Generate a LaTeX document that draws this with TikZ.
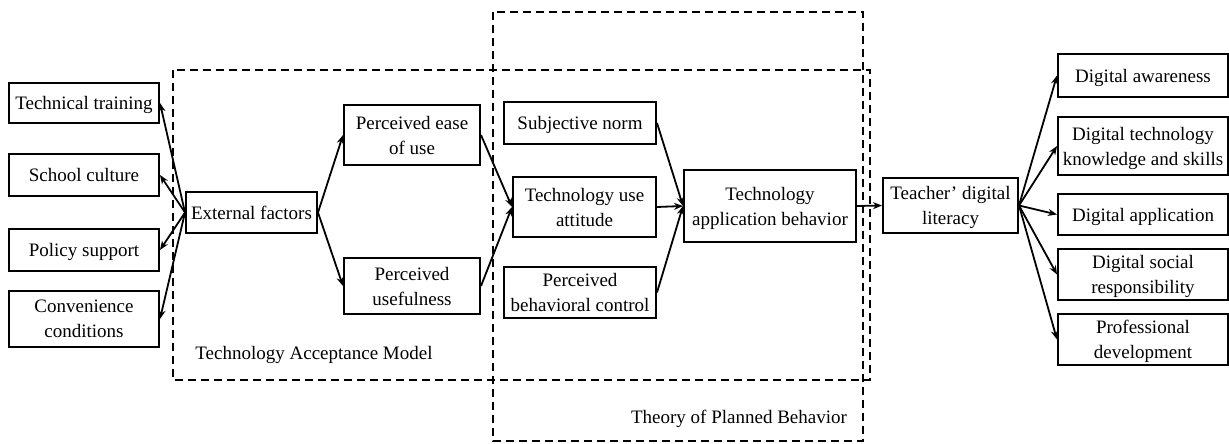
\documentclass[tikz,border=0pt]{standalone}
\usepackage{fontspec}
\setmainfont{Liberation Serif}
\usetikzlibrary{arrows.meta}
\begin{document}
\begin{tikzpicture}[x=1pt,y=-1pt,
  box/.style={draw,line width=2pt,inner sep=0pt,align=center,text depth=0pt,font=\fontsize{19}{25}\selectfont},
  lbl/.style={inner sep=0pt,font=\fontsize{19}{25}\selectfont},
  conn/.style={line width=1.8pt,-{Stealth[length=9pt,width=7pt]}},
  frame/.style={line width=2pt,dash pattern=on 8pt off 5pt}]
\useasboundingbox (0,0) rectangle (1229,444);
% frames
\draw[frame] (173,70) rectangle (870,380);
\draw[frame] (493,12) rectangle (863,441);
\node[lbl] (tamlbl) at (314,355) {Technology Acceptance Model};
\node[lbl] (tpblbl) at (739,419) {Theory of Planned Behavior};
% left column
\node[box,minimum width=150pt,minimum height=40pt] (tt) at (84,103) {Technical training};
\node[box,minimum width=150pt,minimum height=42pt] (sc) at (84,175) {School culture};
\node[box,minimum width=150pt,minimum height=42pt] (ps) at (84,250) {Policy support};
\node[box,minimum width=150pt,minimum height=56pt] (cc) at (84,319) {Convenience\\conditions};
\node[box,minimum width=131pt,minimum height=41pt] (ef) at (251.5,212.5) {External factors};
% TAM
\node[box,minimum width=136pt,minimum height=60pt] (peou) at (412,135) {Perceived ease\\of use};
\node[box,minimum width=136pt,minimum height=56pt] (pu) at (412,286) {Perceived\\usefulness};
% TPB
\node[box,minimum width=152pt,minimum height=42pt] (sn) at (580,123) {Subjective norm};
\node[box,minimum width=143pt,minimum height=60pt] (tua) at (584.5,207) {Technology use\\attitude};
\node[box,minimum width=152pt,minimum height=51pt] (pbc) at (580,292.5) {Perceived\\behavioral control};
\node[box,minimum width=172pt,minimum height=72pt] (tab) at (770,206) {Technology\\application behavior};
\node[box,minimum width=135pt,minimum height=55pt] (tdl) at (950.5,205.5) {Teacher' digital\\literacy};
% right column
\node[box,minimum width=170pt,minimum height=43pt] (da) at (1143,75.5) {Digital awareness};
\node[box,minimum width=170pt,minimum height=58pt] (dtks) at (1143,146) {Digital technology\\knowledge and skills};
\node[box,minimum width=170pt,minimum height=41pt] (dap) at (1143,214.5) {Digital application};
\node[box,minimum width=170pt,minimum height=51pt] (dsr) at (1143,274.5) {Digital social\\responsibility};
\node[box,minimum width=170pt,minimum height=51pt] (pd) at (1143,339.5) {Professional\\development};
% connectors
\foreach \t in {tt,sc,ps,cc} \draw[conn] (ef.west) -- (\t.east);
\draw[conn] (ef.east) -- (peou.west);
\draw[conn] (ef.east) -- (pu.west);
\draw[conn] (peou.east) -- (tua.west);
\draw[conn] (pu.east) -- (tua.west);
\draw[conn] (sn.east) -- (tab.west);
\draw[conn] (tua.east) -- (tab.west);
\draw[conn] (pbc.east) -- (tab.west);
\draw[conn] (tab.east) -- (tdl.west);
\foreach \t in {da,dtks,dap,dsr,pd} \draw[conn] (tdl.east) -- (\t.west);
\end{tikzpicture}
\end{document}
